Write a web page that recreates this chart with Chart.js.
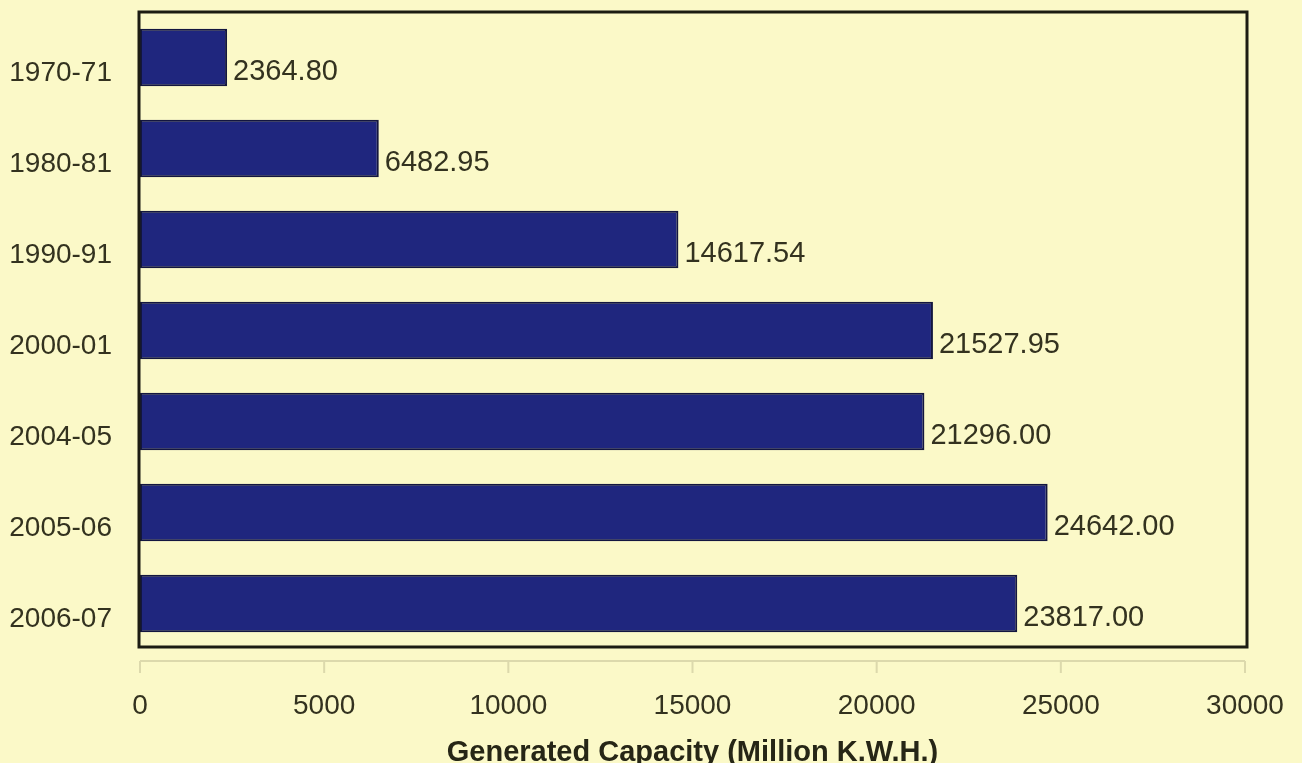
<!DOCTYPE html>
<html>
<head>
<meta charset="utf-8">
<title>Generated Capacity</title>
<script src="https://cdn.jsdelivr.net/npm/chart.js@4.4.1/dist/chart.umd.min.js"></script>
<style>
  html, body { margin: 0; padding: 0; background: #fbf9c8; }
  #wrap { width: 1302px; height: 763px; }
</style>
</head>
<body>
<div id="wrap"><canvas id="chart" width="1302" height="763"></canvas></div>
<script>
/* Generated capacity by year, horizontal bars with value labels. */

const years = ["1970-71", "1980-81", "1990-91", "2000-01", "2004-05", "2005-06", "2006-07"];
const capacity = [2364.80, 6482.95, 14617.54, 21527.95, 21296.00, 24642.00, 23817.00];
const xTicks = [0, 5000, 10000, 15000, 20000, 25000, 30000];

const TEXT = "#33321f";
const FONT = "'Liberation Sans', Arial, sans-serif";

// Dark frame round the plot, and the faint axis line with ticks below it.
const framePlugin = {
  id: "frame",
  afterDatasetsDraw(chart) {
    const { ctx, chartArea: a, scales: { x } } = chart;
    ctx.save();
    ctx.strokeStyle = "#dcd9ac";
    ctx.lineWidth = 2;
    const ay = a.bottom + 12;
    ctx.beginPath();
    ctx.moveTo(a.left, ay);
    ctx.lineTo(a.right, ay);
    for (const v of xTicks) {
      const px = x.getPixelForValue(v);
      ctx.moveTo(px, ay);
      ctx.lineTo(px, ay + 12);
    }
    ctx.stroke();
    ctx.strokeStyle = "#1c1c12";
    ctx.lineWidth = 3;
    ctx.strokeRect(a.left - 1, a.top, a.right - a.left + 3, a.bottom - a.top - 2);
    ctx.restore();
  },
};

// Value labels just past the end of each bar.
const valuePlugin = {
  id: "values",
  afterDatasetsDraw(chart) {
    const { ctx } = chart;
    const meta = chart.getDatasetMeta(0);
    ctx.save();
    ctx.font = `29px ${FONT}`;
    ctx.fillStyle = TEXT;
    ctx.textBaseline = "middle";
    meta.data.forEach((bar, i) => {
      ctx.fillText(capacity[i].toFixed(2), bar.x + 6, bar.y + 14);
    });
    ctx.restore();
  },
};

new Chart(document.getElementById("chart"), {
  type: "bar",
  data: {
    labels: years,
    datasets: [{
      data: capacity,
      backgroundColor: "#1f267e",
      borderColor: "#13163f",
      borderWidth: 2,
      borderSkipped: false,
      categoryPercentage: 1,
      barPercentage: 0.63,
    }],
  },
  options: {
    indexAxis: "y",
    responsive: false,
    animation: false,
    layout: { padding: { top: 12, right: 57, left: 0, bottom: 0 } },
    plugins: { legend: { display: false }, tooltip: { enabled: false } },
    scales: {
      x: {
        min: 0,
        max: 30000,
        afterBuildTicks: (s) => { s.ticks = xTicks.map((v) => ({ value: v })); },
        afterFit: (s) => { s.height = 114; s.paddingLeft = 0; s.paddingRight = 0; },
        grid: { display: false, drawTicks: false },
        border: { display: false },
        ticks: {
          padding: 40,
          color: TEXT,
          font: { family: FONT, size: 28 },
          maxRotation: 0,
          callback: (v) => String(v),
        },
        title: {
          display: true,
          text: "Generated Capacity (Million K.W.H.)",
          color: "#262616",
          font: { family: FONT, size: 29, weight: "bold" },
          padding: { top: 0, bottom: -7 },
        },
      },
      y: {
        afterFit: (s) => { s.width = 140; s.paddingTop = 0; s.paddingBottom = 0; },
        grid: { display: false, drawTicks: false },
        border: { display: false },
        ticks: { padding: 28, labelOffset: 16, color: TEXT, font: { family: FONT, size: 28 } },
      },
    },
  },
  plugins: [framePlugin, valuePlugin],
});
</script>
</body>
</html>
